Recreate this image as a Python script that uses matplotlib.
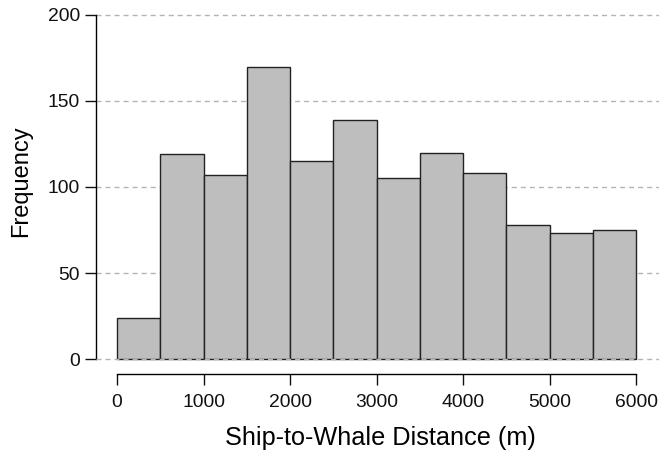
import matplotlib
matplotlib.use("Agg")
import matplotlib.pyplot as plt
import numpy as np

plt.rcParams["font.family"] = ["Liberation Sans", "DejaVu Sans"]

# histogram bins (m) and counts per bin
bin_edges = [0, 500, 1000, 1500, 2000, 2500, 3000, 3500, 4000, 4500, 5000, 5500, 6000]
counts = [24, 119, 107, 170, 115, 139, 105, 120, 108, 78, 73, 75]
x_ticks = [0, 1000, 2000, 3000, 4000, 5000, 6000]
y_ticks = [0, 50, 100, 150, 200]

W, H = 659, 455
fig = plt.figure(figsize=(W / 100, H / 100), dpi=100)
# axes box in pixels: left=96, right=659, top=10, bottom=374
ax = fig.add_axes([96 / W, 1 - 374 / H, (659 - 96) / W, (374 - 10) / H])

px_x = 519 / 6000.0
px_y = 344 / 200.0
ax.set_xlim(-21 / px_x, (659 - 117) / px_x)
ax.set_ylim(-15 / px_y, 200 + 5 / px_y)

dash = (0, (3.6, 2.9))
for yv in y_ticks[1:]:
    ax.axhline(yv, color="#b4b4b4", lw=1.0, ls=dash, zorder=0)

edges = np.array(bin_edges)
ax.bar(edges[:-1], counts, width=np.diff(edges), align="edge",
       color="#bebebe", edgecolor="#222222", linewidth=1.0, zorder=2)
ax.axhline(0, color="#b4b4b4", lw=1.0, ls=dash, zorder=3)

for s in ("top", "right"):
    ax.spines[s].set_visible(False)
ax.spines["left"].set_bounds(0, 200)
ax.spines["bottom"].set_bounds(0, 6000)
ax.spines["left"].set_linewidth(1.0)
ax.spines["bottom"].set_linewidth(1.0)

ax.set_xticks(x_ticks)
ax.set_yticks(y_ticks)
ax.tick_params(axis="both", direction="out", length=8, width=1.0,
               labelsize=13.9, colors="#111111")
ax.tick_params(axis="y", pad=3.5)
ax.tick_params(axis="x", pad=6.5)

ax.set_xlabel("Ship-to-Whale Distance (m)", fontsize=18.2)
ax.set_ylabel("Frequency", fontsize=17)
ax.xaxis.set_label_coords((380 - 96) / (659 - 96), (374 - 438) / (374 - 10))
ax.xaxis.label.set_va("center")
ax.yaxis.set_label_coords((21.5 - 96) / (659 - 96), (374 - 181) / (374 - 10))
ax.yaxis.label.set_va("center")

fig.savefig("out.png", dpi=100)
